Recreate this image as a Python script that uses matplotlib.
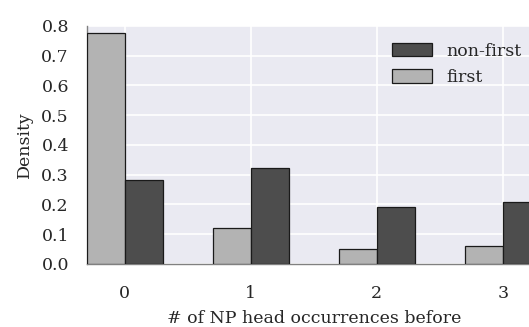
import numpy as np
import matplotlib
matplotlib.use("Agg")
import matplotlib.pyplot as plt
import seaborn as sns

# ── Data ─────────────────────────────────────────────────────────────
occurrences   = [0, 1, 2, 3]
first_dens    = [0.777, 0.120, 0.049, 0.059]
nonfirst_dens = [0.281, 0.323, 0.192, 0.208]

COLORS = {"first": "#b3b3b3", "nonfirst": "#4d4d4d", "edge": "#1a1a1a"}

sns.set_style("darkgrid")
plt.rcParams["font.family"] = ["DejaVu Serif"]
plt.rcParams["font.size"] = 12.5

fig = plt.figure(figsize=(5.29, 3.27), dpi=100)
ax = fig.add_axes([0.1645, 0.1927, 0.8575, 0.728])

x = np.array(occurrences)
w = 0.3
ax.bar(x - w / 2, first_dens, width=w, color=COLORS["first"],
       edgecolor=COLORS["edge"], linewidth=0.9, label="first", zorder=3)
ax.bar(x + w / 2, nonfirst_dens, width=w, color=COLORS["nonfirst"],
       edgecolor=COLORS["edge"], linewidth=0.9, label="non-first", zorder=3)

ax.set_xlim(-0.3, 3.3)
ax.set_ylim(0, 0.8)
ax.set_xticks(x)
ax.set_yticks(np.arange(0, 0.81, 0.1))
ax.set_yticklabels([f"{v:.1f}" for v in np.arange(0, 0.81, 0.1)])
ax.tick_params(axis="both", length=2, width=0.6, color="#888888")
ax.tick_params(axis="y", pad=11)
ax.tick_params(axis="x", pad=13)
ax.grid(True, color="white", linewidth=1.2, zorder=0)
ax.set_axisbelow(True)

for side in ["top", "right"]:
    ax.spines[side].set_visible(False)
for side in ["left", "bottom"]:
    ax.spines[side].set_visible(True)
    ax.spines[side].set_color("#808080")
    ax.spines[side].set_linewidth(1.0)

ax.set_xlabel("# of NP head occurrences before", labelpad=6)
ax.set_ylabel("Density", labelpad=6)

handles, labels = ax.get_legend_handles_labels()
ax.legend(handles[::-1], labels[::-1], loc="upper left",
          bbox_to_anchor=(0.741, 0.870), bbox_transform=fig.transFigure,
          frameon=False, handlelength=2.3, handleheight=0.8,
          handletextpad=0.85, labelspacing=0.55, borderaxespad=0,
          borderpad=0)

fig.savefig("out.png", dpi=100, facecolor="white")
